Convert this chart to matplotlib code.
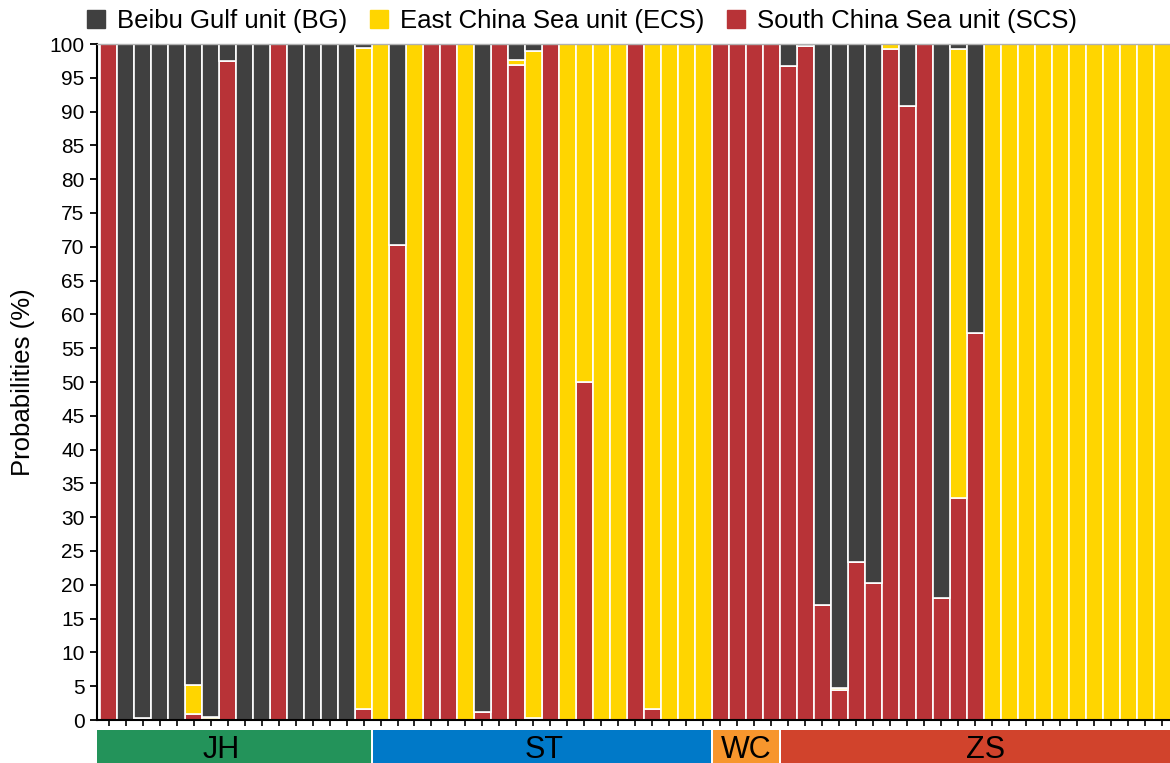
import numpy as np
import matplotlib

matplotlib.use("Agg")
import matplotlib.pyplot as plt
from matplotlib.patches import Patch, Rectangle
from matplotlib.transforms import blended_transform_factory

plt.rcParams["font.family"] = ["Liberation Sans", "DejaVu Sans"]

# Assignment probabilities (%) per individual; BG fills the remainder to 100.
scs = [
    # JH
    100, 0, 0.3, 0, 0, 0.9, 0.1, 97.5, 0, 0, 100, 0, 0, 0, 0, 1.7,
    # ST
    0, 70.2, 0, 100, 100, 0, 1.2, 100, 96.9, 0.3,
    100, 0, 50, 0, 0, 100, 1.7, 0, 0, 0,
    # WC
    100, 100, 100, 100,
    # ZS
    96.7, 99.7, 17, 4.5, 23.3, 20.2, 99.2, 90.9, 100, 18, 32.8, 57.3,
    0, 0, 0, 0, 0, 0, 0, 0, 0, 0, 0,
]
ecs = [
    # JH
    0, 0, 0, 0, 0, 4.3, 0.3, 0, 0, 0, 0, 0, 0, 0, 0, 97.7,
    # ST
    100, 0, 100, 0, 0, 100, 0, 0, 0.8, 98.7,
    0, 100, 50, 100, 100, 0, 98.3, 100, 100, 100,
    # WC
    0, 0, 0, 0,
    # ZS
    0, 0, 0, 0.2, 0, 0, 0.8, 0, 0, 0, 66.5, 0,
    100, 100, 100, 100, 100, 100, 100, 100, 100, 100, 100,
]
bg = [100 - a - b for a, b in zip(scs, ecs)]

populations = ["JH", "ST", "WC", "ZS"]
pop_sizes = [16, 20, 4, 23]
pop_colors = ["#23935a", "#0079c8", "#f7962d", "#d1432c"]
# label x offsets (in bars) from the band centre
label_shift = [-0.85, 0.1, 0.0, 0.6]

c_bg, c_ecs, c_scs = "#404040", "#ffd500", "#b83337"

fig = plt.figure(figsize=(11.7, 7.63), dpi=100)
ax = fig.add_axes([97 / 1170, 43 / 763, 1 - 97 / 1170, 676 / 763])

x = np.arange(len(scs))
scs = np.array(scs)
ecs = np.array(ecs)
bg = np.array(bg)
kw = dict(width=1.0, edgecolor="white", linewidth=1.2)
ax.bar(x, scs, color=c_scs, **kw)
ax.bar(x, ecs, bottom=scs, color=c_ecs, **kw)
ax.bar(x, bg, bottom=scs + ecs, color=c_bg, **kw)

xmin, xmax = -0.68, len(scs) - 0.55
ax.set_xlim(xmin, xmax)
ax.set_ylim(0, 100)
ax.set_yticks(np.arange(0, 101, 5))
ax.set_xticks(x)
ax.set_xticklabels([])
ax.tick_params(axis="y", labelsize=15, length=5, width=1.3, pad=4)
ax.tick_params(axis="x", length=4, width=1.2)
ax.set_ylabel("Probabilities (%)", fontsize=18.5, labelpad=10)

ax.spines["right"].set_visible(False)
ax.spines["top"].set_color("#b0b0b0")
ax.spines["top"].set_linewidth(1.0)
ax.spines["left"].set_linewidth(1.5)
ax.spines["bottom"].set_linewidth(1.5)

# population bands under the x axis
trans = blended_transform_factory(ax.transData, ax.transAxes)
bounds = np.concatenate([[-0.5], np.cumsum(pop_sizes) - 0.5])
for i, (name, col) in enumerate(zip(populations, pop_colors)):
    x0 = xmin if i == 0 else bounds[i] + 0.06
    x1 = bounds[i + 1] - 0.06 if i < len(populations) - 1 else xmax + 1
    ax.add_patch(Rectangle((x0, -0.064), x1 - x0, 0.049, transform=trans,
                           facecolor=col, edgecolor="none", clip_on=False))
    xc = (bounds[i] + bounds[i + 1]) / 2 + label_shift[i]
    ax.text(xc, -0.044, name, transform=trans, ha="center", va="center",
            fontsize=22, clip_on=False)

handles = [Patch(color=c_bg, label="Beibu Gulf unit (BG)"),
           Patch(color=c_ecs, label="East China Sea unit (ECS)"),
           Patch(color=c_scs, label="South China Sea unit (SCS)")]
fig.legend(handles=handles, loc="upper left", bbox_to_anchor=(64 / 1170, 1.018),
           ncol=3, frameon=False, fontsize=18.5, handlelength=0.7,
           handleheight=0.7, handletextpad=0.45, columnspacing=0.9)

fig.savefig("out.png", dpi=100)
plt.close(fig)
